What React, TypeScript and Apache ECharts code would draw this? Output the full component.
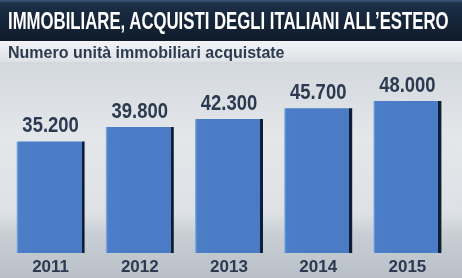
import React, { useEffect, useRef } from "react";
import * as echarts from "echarts";

const years = ["2011", "2012", "2013", "2014", "2015"];
const units = [35200, 39800, 42300, 45700, 48000];

const titleText = "IMMOBILIARE, ACQUISTI DEGLI ITALIANI ALL\u2019ESTERO";
const subtitleText = "Numero unità immobiliari acquistate";

const sans = "'Liberation Sans', 'Noto Sans', sans-serif";
const labelColor = "#2b3a50";

function formatThousands(v: number): string {
  return String(v).replace(/\B(?=(\d{3})+(?!\d))/g, ".");
}

function measure(text: string, font: string): number {
  const ctx = document.createElement("canvas").getContext("2d");
  if (!ctx) return 0;
  ctx.font = font;
  return ctx.measureText(text).width;
}

export default function App() {
  const ref = useRef<HTMLDivElement>(null);

  useEffect(() => {
    if (!ref.current) return;
    const chart = echarts.init(ref.current, null, { renderer: "svg" });

    // Title is set in a condensed look by squeezing a bold face horizontally.
    const titleFont = `bold 23px ${sans}`;
    const titleW = measure(titleText, titleFont) || 520;
    const titleScale = 442 / titleW;

    chart.setOption({
      animation: false,
      graphic: [
        {
          type: "rect",
          z: -10,
          shape: { x: 0, y: 62, width: 462, height: 216 },
          style: {
            fill: {
              type: "linear", x: 0, y: 0, x2: 0, y2: 1,
              colorStops: [
                { offset: 0, color: "#d3d8dd" },
                { offset: 0.35, color: "#e4e7ea" },
                { offset: 0.7, color: "#dde1e5" },
                { offset: 0.8, color: "#c8ced4" },
                { offset: 1, color: "#b9c0c7" },
              ],
            },
          },
        },
        {
          type: "rect",
          z: -9,
          shape: { x: 0, y: 0, width: 462, height: 41 },
          style: {
            fill: {
              type: "linear", x: 0, y: 0, x2: 0, y2: 1,
              colorStops: [
                { offset: 0, color: "#3a5c7e" },
                { offset: 0.08, color: "#1c3046" },
                { offset: 0.5, color: "#15253a" },
                { offset: 1, color: "#101c2a" },
              ],
            },
          },
        },
        {
          type: "rect",
          z: -9,
          shape: { x: 0, y: 41, width: 462, height: 21 },
          style: {
            fill: {
              type: "linear", x: 0, y: 0, x2: 0, y2: 1,
              colorStops: [
                { offset: 0, color: "#f2f4f6" },
                { offset: 1, color: "#dee2e6" },
              ],
            },
          },
        },
        {
          type: "text",
          x: 8,
          y: 21,
          scaleX: titleScale,
          style: {
            text: titleText,
            fill: "#ffffff",
            font: titleFont,
            verticalAlign: "middle",
          },
        },
        {
          type: "text",
          x: 8,
          y: 52,
          style: {
            text: subtitleText,
            fill: "#2d3b50",
            font: `bold 16px ${sans}`,
            verticalAlign: "middle",
          },
        },
      ],
      grid: { left: 6, right: 10, top: 63, bottom: 25, containLabel: false },
      xAxis: {
        type: "category",
        data: years,
        axisLine: { show: false },
        axisTick: { show: false },
        axisLabel: {
          color: labelColor,
          fontFamily: sans,
          fontWeight: "bold",
          fontSize: 17,
          margin: 5,
        },
      },
      yAxis: {
        type: "value",
        min: 0,
        max: 60000,
        show: false,
        splitLine: { show: false },
      },
      series: [
        {
          type: "bar",
          data: units,
          barWidth: 68,
          itemStyle: {
            color: {
              type: "linear", x: 0, y: 0, x2: 1, y2: 0,
              colorStops: [
                { offset: 0, color: "#8cb4e8" },
                { offset: 0.03, color: "#4c7ec8" },
                { offset: 0.5, color: "#4a7cc6" },
                { offset: 0.955, color: "#4a7bc4" },
                { offset: 0.956, color: "#0f1e36" },
                { offset: 1, color: "#0f1e36" },
              ],
            },
          },
        },
        {
          // value labels above each bar, narrowed to a condensed look
          type: "custom",
          data: units.map((v, i) => [i, v]),
          encode: { x: 0, y: 1 },
          z: 5,
          renderItem: (_params: any, api: any) => {
            const p = api.coord([api.value(0), api.value(1)]);
            return {
              type: "text",
              x: p[0],
              y: p[1] - 6,
              scaleX: 0.84,
              style: {
                text: formatThousands(api.value(1)),
                fill: labelColor,
                font: `bold 22px ${sans}`,
                align: "center",
                verticalAlign: "bottom",
              },
            };
          },
        },
      ],
    });

    return () => chart.dispose();
  }, []);

  return (
    <div
      ref={ref}
      style={{ position: "fixed", left: 0, top: 0, width: 462, height: 278 }}
    />
  );
}
